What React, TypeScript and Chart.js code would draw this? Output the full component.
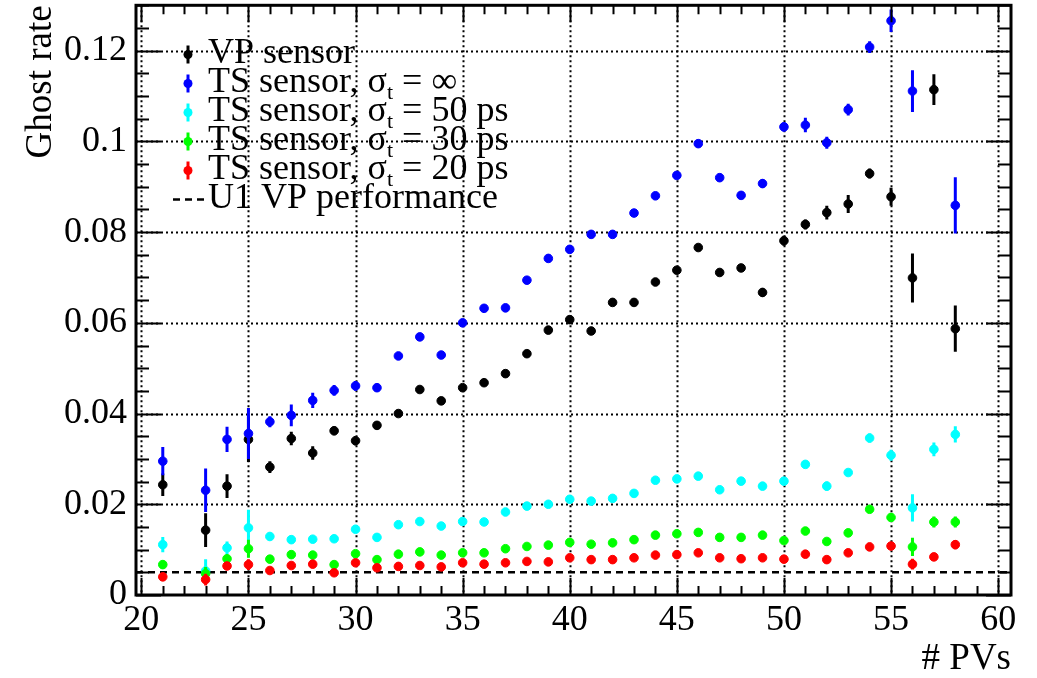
import React, { useEffect, useRef } from 'react';
import { Chart, registerables } from 'chart.js';

Chart.register(...registerables);

const FONT = '"Liberation Serif", "Times New Roman", Times, serif';

// ---- data ----
const pvs = [21, 23, 24, 25, 26, 27, 28, 29, 30, 31, 32, 33, 34, 35, 36, 37, 38, 39, 40, 41, 42, 43, 44, 45, 46, 47, 48, 49, 50, 51, 52, 53, 54, 55, 56, 57, 58];

const vpSensor = [0.0243, 0.0143, 0.0240, 0.0343, 0.0282, 0.0345, 0.0313, 0.0362, 0.0340, 0.0374, 0.0400, 0.0453, 0.0428, 0.0457, 0.0468, 0.0488, 0.0532, 0.0584, 0.0607, 0.0582, 0.0645, 0.0645, 0.0690, 0.0716, 0.0766, 0.0711, 0.0721, 0.0667, 0.0781, 0.0817, 0.0843, 0.0862, 0.0929, 0.0878, 0.0699, 0.1114, 0.0587];
const vpSensorErr = [0.0025, 0.0037, 0.0026, 0.0050, 0.0013, 0.0015, 0.0015, 0.0010, 0.0010, 0.0008, 0.0007, 0.0007, 0.0007, 0.0007, 0.0007, 0.0007, 0.0007, 0.0007, 0.0008, 0.0007, 0.0007, 0.0007, 0.0007, 0.0008, 0.0008, 0.0008, 0.0007, 0.0010, 0.0011, 0.0011, 0.0015, 0.0020, 0.0011, 0.0020, 0.0054, 0.0034, 0.0051];

const tsInf = [0.0295, 0.0231, 0.0343, 0.0356, 0.0382, 0.0396, 0.0429, 0.0451, 0.0461, 0.0457, 0.0527, 0.0569, 0.0529, 0.0600, 0.0632, 0.0633, 0.0694, 0.0742, 0.0762, 0.0795, 0.0795, 0.0842, 0.0880, 0.0925, 0.0995, 0.0920, 0.0881, 0.0907, 0.1032, 0.1036, 0.0997, 0.1070, 0.1208, 0.1266, 0.1111, null, 0.0859];
const tsInfErr = [0.0031, 0.0048, 0.0028, 0.0056, 0.0012, 0.0024, 0.0017, 0.0012, 0.0011, 0.0009, 0.0008, 0.0008, 0.0008, 0.0008, 0.0008, 0.0008, 0.0008, 0.0008, 0.0008, 0.0008, 0.0008, 0.0008, 0.0008, 0.0008, 0.0008, 0.0008, 0.0008, 0.0010, 0.0010, 0.0016, 0.0013, 0.0013, 0.0013, 0.0025, 0.0046, null, 0.0062];

const ts50 = [0.0111, 0.0053, 0.0104, 0.0148, 0.0129, 0.0122, 0.0123, 0.0124, 0.0145, 0.0127, 0.0155, 0.0162, 0.0152, 0.0162, 0.0161, 0.0183, 0.0196, 0.0200, 0.0211, 0.0207, 0.0213, 0.0224, 0.0253, 0.0256, 0.0262, 0.0232, 0.0251, 0.0240, 0.0251, 0.0288, 0.0240, 0.0270, 0.0346, 0.0308, 0.0192, 0.0321, 0.0354];
const ts50Err = [0.0017, 0.0026, 0.0014, 0.0040, 0.0009, 0.0008, 0.0007, 0.0007, 0.0008, 0.0006, 0.0006, 0.0006, 0.0006, 0.0006, 0.0006, 0.0006, 0.0006, 0.0006, 0.0006, 0.0006, 0.0006, 0.0006, 0.0006, 0.0006, 0.0006, 0.0006, 0.0006, 0.0006, 0.0006, 0.0006, 0.0010, 0.0006, 0.0010, 0.0012, 0.0030, 0.0015, 0.0018];

const ts30 = [0.0067, 0.0047, 0.0080, 0.0102, 0.0079, 0.0089, 0.0088, 0.0067, 0.0091, 0.0078, 0.0090, 0.0095, 0.0088, 0.0093, 0.0093, 0.0102, 0.0107, 0.0110, 0.0116, 0.0112, 0.0115, 0.0122, 0.0132, 0.0135, 0.0138, 0.0127, 0.0127, 0.0132, 0.0120, 0.0141, 0.0118, 0.0137, 0.0189, 0.0171, 0.0106, 0.0161, 0.0161];
const ts30Err = [0.0009, 0.0015, 0.0008, 0.0020, 0.0006, 0.0006, 0.0006, 0.0006, 0.0006, 0.0005, 0.0005, 0.0005, 0.0005, 0.0005, 0.0005, 0.0005, 0.0005, 0.0005, 0.0005, 0.0005, 0.0005, 0.0005, 0.0005, 0.0005, 0.0005, 0.0005, 0.0005, 0.0005, 0.0005, 0.0005, 0.0006, 0.0005, 0.0008, 0.0010, 0.0020, 0.0012, 0.0012];

const ts20 = [0.0040, 0.0034, 0.0064, 0.0067, 0.0054, 0.0065, 0.0068, 0.0049, 0.0071, 0.0060, 0.0063, 0.0065, 0.0062, 0.0071, 0.0068, 0.0071, 0.0074, 0.0073, 0.0082, 0.0078, 0.0078, 0.0082, 0.0088, 0.0089, 0.0093, 0.0082, 0.0080, 0.0082, 0.0079, 0.0090, 0.0078, 0.0093, 0.0106, 0.0108, 0.0068, 0.0084, 0.0111];
const ts20Err = [0.0008, 0.0013, 0.0008, 0.0012, 0.0005, 0.0005, 0.0005, 0.0005, 0.0005, 0.0004, 0.0004, 0.0004, 0.0004, 0.0004, 0.0004, 0.0004, 0.0004, 0.0004, 0.0004, 0.0004, 0.0004, 0.0004, 0.0004, 0.0004, 0.0004, 0.0004, 0.0004, 0.0004, 0.0004, 0.0004, 0.0005, 0.0004, 0.0006, 0.0007, 0.0012, 0.0008, 0.0010];

const u1VpPerformance = 0.005;

const xTicks = [20, 25, 30, 35, 40, 45, 50, 55, 60];
const yTicks = [0, 0.02, 0.04, 0.06, 0.08, 0.1, 0.12];
const xRange = [19.75, 60.6];
const yRange = [0, 0.13];

const seriesColors = ['#000000', '#0000ff', '#00ffff', '#00ff00', '#ff0000'];
const legendLabels: [string, string, string][] = [
  ['VP sensor', '', ''],
  ['TS sensor, σ', 't', ' = ∞'],
  ['TS sensor, σ', 't', ' = 50 ps'],
  ['TS sensor, σ', 't', ' = 30 ps'],
  ['TS sensor, σ', 't', ' = 20 ps'],
  ['U1 VP performance', '', ''],
];
const xTitle = '# PVs';
const yTitle = 'Ghost rate';

function toPoints(vals: (number | null)[], errs: (number | null)[]) {
  const out: { x: number; y: number; e: number }[] = [];
  pvs.forEach((x, i) => {
    const v = vals[i];
    if (v !== null && v !== undefined) out.push({ x, y: v, e: errs[i] ?? 0 });
  });
  return out;
}

const rootPlugin = {
  id: 'rootStyle',
  beforeDatasetsDraw(chart: any) {
    const { ctx, chartArea: a, scales } = chart;
    const xs = scales.x, ys = scales.y;
    ctx.save();
    ctx.strokeStyle = '#000';
    ctx.lineWidth = 2;
    ctx.setLineDash([2, 3]);
    xTicks.forEach((v) => {
      const px = Math.round(xs.getPixelForValue(v)) + 0.5;
      ctx.beginPath();
      ctx.moveTo(px, a.top);
      ctx.lineTo(px, a.bottom);
      ctx.stroke();
    });
    yTicks.forEach((v) => {
      if (v === 0) return;
      const py = Math.round(ys.getPixelForValue(v)) + 0.5;
      ctx.beginPath();
      ctx.moveTo(a.left, py);
      ctx.lineTo(a.right, py);
      ctx.stroke();
    });
    ctx.restore();
  },
  beforeDatasetDraw(chart: any, args: any) {
    const ds = chart.data.datasets[args.index];
    if (!ds.errorBars) return;
    const { ctx, chartArea: a, scales } = chart;
    const ys = scales.y;
    ctx.save();
    ctx.beginPath();
    ctx.rect(a.left, a.top, a.right - a.left, a.bottom - a.top);
    ctx.clip();
    ctx.strokeStyle = ds.backgroundColor;
    ctx.lineWidth = 3;
    args.meta.data.forEach((el: any, i: number) => {
      const d = ds.data[i];
      if (!d || !d.e) return;
      ctx.beginPath();
      ctx.moveTo(el.x, ys.getPixelForValue(d.y - d.e));
      ctx.lineTo(el.x, ys.getPixelForValue(d.y + d.e));
      ctx.stroke();
    });
    ctx.restore();
  },
  afterDatasetsDraw(chart: any) {
    const { ctx, chartArea: a, scales } = chart;
    const xs = scales.x, ys = scales.y;
    ctx.save();
    ctx.strokeStyle = '#000';
    ctx.lineWidth = 2;
    ctx.setLineDash([]);
    // x ticks (bottom + top)
    for (let v = 20; v <= 60; v++) {
      const px = Math.round(xs.getPixelForValue(v)) + 0.5;
      const len = v % 5 === 0 ? 17 : 9;
      ctx.beginPath();
      ctx.moveTo(px, a.bottom);
      ctx.lineTo(px, a.bottom - len);
      ctx.moveTo(px, a.top);
      ctx.lineTo(px, a.top + len);
      ctx.stroke();
    }
    // y ticks (left + right)
    for (let k = 0; k <= 26; k++) {
      const v = k * 0.005;
      const py = Math.round(ys.getPixelForValue(v)) + 0.5;
      const len = k % 4 === 0 ? 25 : 13;
      ctx.beginPath();
      ctx.moveTo(a.left, py);
      ctx.lineTo(a.left + len, py);
      ctx.moveTo(a.right, py);
      ctx.lineTo(a.right - len, py);
      ctx.stroke();
    }
    ctx.lineWidth = 3;
    ctx.strokeRect(a.left, a.top, a.right - a.left, a.bottom - a.top);
    ctx.restore();
  },
  afterDraw(chart: any) {
    const { ctx } = chart;
    ctx.save();
    const mx = 188;
    const tx = 208;
    legendLabels.forEach((parts, i) => {
      const base = 62.5 + 29 * i;
      const cy = base - 8;
      if (i < seriesColors.length) {
        ctx.strokeStyle = seriesColors[i];
        ctx.fillStyle = seriesColors[i];
        ctx.lineWidth = 3;
        ctx.beginPath();
        ctx.moveTo(mx, cy - 9);
        ctx.lineTo(mx, cy + 9);
        ctx.stroke();
        ctx.beginPath();
        ctx.arc(mx, cy, 4.5, 0, Math.PI * 2);
        ctx.fill();
      } else {
        ctx.strokeStyle = '#000';
        ctx.lineWidth = 2.5;
        ctx.setLineDash([7, 5]);
        ctx.beginPath();
        ctx.moveTo(173, cy);
        ctx.lineTo(204, cy);
        ctx.stroke();
        ctx.setLineDash([]);
      }
      ctx.fillStyle = '#000';
      ctx.textBaseline = 'alphabetic';
      ctx.textAlign = 'left';
      ctx.font = `36px ${FONT}`;
      ctx.fillText(parts[0], tx, base);
      let x = tx + ctx.measureText(parts[0]).width;
      if (parts[1]) {
        ctx.font = `22px ${FONT}`;
        ctx.fillText(parts[1], x, base + 7);
        x += ctx.measureText(parts[1]).width;
      }
      if (parts[2]) {
        ctx.font = `36px ${FONT}`;
        ctx.fillText(parts[2], x, base);
      }
    });
    ctx.restore();
  },
};

export default function App() {
  const ref = useRef<HTMLCanvasElement | null>(null);
  useEffect(() => {
    if (!ref.current) return;
    const series = [
      { label: legendLabels[0].join(''), vals: vpSensor, errs: vpSensorErr },
      { label: legendLabels[1].join(''), vals: tsInf, errs: tsInfErr },
      { label: legendLabels[2].join(''), vals: ts50, errs: ts50Err },
      { label: legendLabels[3].join(''), vals: ts30, errs: ts30Err },
      { label: legendLabels[4].join(''), vals: ts20, errs: ts20Err },
    ];
    const datasets: any[] = series.map((s, i) => ({
      type: 'scatter',
      label: s.label,
      data: toPoints(s.vals, s.errs),
      errorBars: true,
      backgroundColor: seriesColors[i],
      borderColor: seriesColors[i],
      pointBackgroundColor: seriesColors[i],
      pointBorderColor: seriesColors[i],
      pointBorderWidth: 1,
      pointRadius: 4.3,
      showLine: false,
      order: 5 - i,
      clip: 0,
    }));
    datasets.push({
      type: 'line',
      label: legendLabels[5].join(''),
      data: [
        { x: xRange[0], y: u1VpPerformance },
        { x: xRange[1], y: u1VpPerformance },
      ],
      borderColor: '#000',
      borderWidth: 2.5,
      borderDash: [7, 5],
      pointRadius: 0,
      order: 10,
    });

    const chart = new Chart(ref.current, {
      type: 'scatter',
      data: { datasets },
      plugins: [rootPlugin],
      options: {
        animation: false,
        responsive: false,
        maintainAspectRatio: false,
        layout: { padding: { left: 0, right: 26, top: 5, bottom: 0 } },
        plugins: { legend: { display: false }, tooltip: { enabled: false } },
        scales: {
          x: {
            type: 'linear',
            min: xRange[0],
            max: xRange[1],
            afterBuildTicks: (s: any) => {
              s.ticks = xTicks.map((v) => ({ value: v }));
            },
            afterFit: (s: any) => {
              s.height = 83;
              s.paddingLeft = 0;
              s.paddingRight = 0;
              s.paddingTop = 0;
              s.paddingBottom = 0;
            },
            grid: { display: false, drawTicks: false },
            border: { display: false },
            ticks: {
              font: { family: FONT, size: 36 },
              color: '#000',
              padding: 4,
              maxRotation: 0,
              autoSkip: false,
              callback: (v: any) => String(v),
            },
            title: {
              display: true,
              text: xTitle,
              align: 'end',
              color: '#000',
              font: { family: FONT, size: 37, lineHeight: 1 },
              padding: { top: 0, bottom: 0 },
            },
          },
          y: {
            type: 'linear',
            min: yRange[0],
            max: yRange[1],
            afterBuildTicks: (s: any) => {
              s.ticks = yTicks.map((v) => ({ value: v }));
            },
            afterFit: (s: any) => {
              s.width = 136;
              s.paddingLeft = 0;
              s.paddingRight = 0;
              s.paddingTop = 0;
              s.paddingBottom = 0;
            },
            grid: { display: false, drawTicks: false },
            border: { display: false },
            ticks: {
              font: { family: FONT, size: 36 },
              color: '#000',
              padding: 9,
              autoSkip: false,
              callback: (v: any) => String(parseFloat(Number(v).toFixed(2))),
            },
            title: {
              display: true,
              text: yTitle,
              align: 'end',
              color: '#000',
              font: { family: FONT, size: 37 },
              padding: { top: 19, bottom: 0 },
            },
          },
        },
      } as any,
    });
    return () => chart.destroy();
  }, []);

  return (
    <div style={{ position: 'fixed', left: 0, top: 0, width: 1037, height: 678, background: '#fff' }}>
      <canvas ref={ref} width={1037} height={678} style={{ display: 'block' }} />
    </div>
  );
}
